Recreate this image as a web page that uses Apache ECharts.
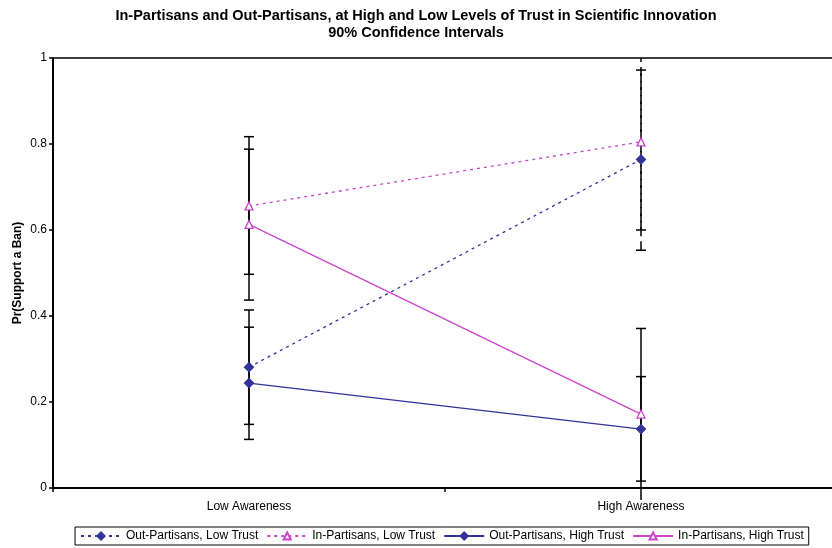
<!DOCTYPE html>
<html>
<head>
<meta charset="utf-8">
<script src="https://cdn.jsdelivr.net/npm/echarts@6/dist/echarts.min.js"></script>
<style>
  html, body { margin: 0; padding: 0; background: #fff; }
  #chart { width: 832px; height: 548px; }
</style>
</head>
<body>
<div id="chart"></div>
<script>
const categories = ["Low Awareness", "High Awareness"];

const seriesNames = [
  "Out-Partisans, Low Trust",
  "In-Partisans, Low Trust",
  "Out-Partisans, High Trust",
  "In-Partisans, High Trust",
];

// point estimates
const outLowTrust = [0.281, 0.764];
const inLowTrust = [0.656, 0.805];
const outHighTrust = [0.244, 0.137];
const inHighTrust = [0.613, 0.172];

// 90% confidence bounds
const outLowTrustLo = [0.148, 0.553];
const outLowTrustHi = [0.414, 0.972];
const inLowTrustLo = [0.497, 0.600];
const inLowTrustHi = [0.817, 1.0];
const outHighTrustLo = [0.113, 0.016];
const outHighTrustHi = [0.374, 0.259];
const inHighTrustLo = [0.437, -0.028];
const inHighTrustHi = [0.788, 0.371];

const BLUE = "#333399";
const MAGENTA = "#cc44cc";
const FONT = "Liberation Sans";

const values = [outLowTrust, inLowTrust, outHighTrust, inHighTrust];
const lows = [outLowTrustLo, inLowTrustLo, outHighTrustLo, inHighTrustLo];
const highs = [outLowTrustHi, inLowTrustHi, outHighTrustHi, inHighTrustHi];

const errorData = [];
lows.forEach((lo, s) => {
  lo.forEach((v, i) => {
    errorData.push([i, v, highs[s][i], s]);
  });
});

function renderErrorBar(params, api) {
  const cat = api.value(0);
  const s = api.value(3);
  const lo = api.coord([cat, api.value(1)]);
  const hi = api.coord([cat, api.value(2)]);
  // low-trust bars at high awareness are dashed in the original
  const dashed = s < 2 && cat === 1;
  const style = { stroke: "#000", lineWidth: 1.5, lineDash: dashed ? [9, 5] : null };
  const half = 5;
  const children = [
    { type: "line", shape: { x1: lo[0], y1: lo[1], x2: hi[0], y2: hi[1] }, style },
  ];
  [[api.value(1), lo], [api.value(2), hi]].forEach(([v, p]) => {
    if (v >= 0 && v < 1) {
      children.push({
        type: "line",
        shape: { x1: p[0] - half, y1: p[1], x2: p[0] + half, y2: p[1] },
        style: { stroke: "#000", lineWidth: 1.5 },
      });
    }
  });
  return { type: "group", children };
}

function lineSeries(idx, color, symbol, dotted) {
  return {
    name: seriesNames[idx],
    type: "line",
    data: values[idx],
    symbol,
    symbolSize: symbol === "diamond" ? 9 : 8,
    z: 3,
    lineStyle: { color, width: 1.3, type: dotted ? [3, 4] : "solid" },
    itemStyle: {
      color: symbol === "diamond" ? color : "#fff",
      borderColor: color,
      borderWidth: 1.3,
    },
    emphasis: { disabled: true },
  };
}

const chart = echarts.init(document.getElementById("chart"));
chart.setOption({
  animation: false,
  textStyle: { fontFamily: FONT, color: "#000" },
  title: {
    text: "In-Partisans and Out-Partisans, at High and Low Levels of Trust in Scientific Innovation\n90% Confidence Intervals",
    left: "center",
    top: 2,
    textStyle: { fontFamily: FONT, fontSize: 14.5, fontWeight: "bold", color: "#000", lineHeight: 17 },
  },
  grid: {
    left: 53,
    right: -5,
    top: 58,
    bottom: 60,
    outerBoundsMode: "none",
    containLabel: false,
    show: true,
    borderColor: "#000",
    borderWidth: 1.5,
  },
  legend: {
    data: seriesNames,
    left: 75,
    top: 527,
    padding: [3, 5],
    itemGap: 8,
    itemWidth: 40,
    itemHeight: 9,
    borderColor: "#000",
    borderWidth: 1,
    borderRadius: 0,
    textStyle: { fontFamily: FONT, fontSize: 12, color: "#000" },
  },
  xAxis: {
    type: "category",
    data: categories,
    boundaryGap: true,
    axisLine: { lineStyle: { color: "#000", width: 2 } },
    axisTick: { show: true, length: 4, lineStyle: { color: "#000", width: 1.5 } },
    axisLabel: { fontFamily: FONT, fontSize: 12, color: "#000", margin: 13 },
  },
  yAxis: {
    type: "value",
    min: 0,
    max: 1,
    interval: 0.2,
    name: "Pr(Support a Ban)",
    nameLocation: "middle",
    nameGap: 29,
    nameMoveOverlap: false,
    nameTextStyle: { fontFamily: FONT, fontSize: 12, fontWeight: "bold", color: "#000" },
    splitLine: { show: false },
    axisLine: { show: true, lineStyle: { color: "#000", width: 2 } },
    axisTick: { show: true, length: 4, lineStyle: { color: "#000", width: 1.5 } },
    axisLabel: { fontFamily: FONT, fontSize: 12, color: "#000", margin: 6 },
  },
  series: [
    {
      name: "CI",
      type: "custom",
      renderItem: renderErrorBar,
      data: errorData,
      encode: { x: 0, y: [1, 2] },
      clip: false,
      z: 1,
      silent: true,
    },
    lineSeries(0, BLUE, "diamond", true),
    lineSeries(1, MAGENTA, "triangle", true),
    lineSeries(2, BLUE, "diamond", false),
    lineSeries(3, MAGENTA, "triangle", false),
  ],
});
</script>
</body>
</html>
